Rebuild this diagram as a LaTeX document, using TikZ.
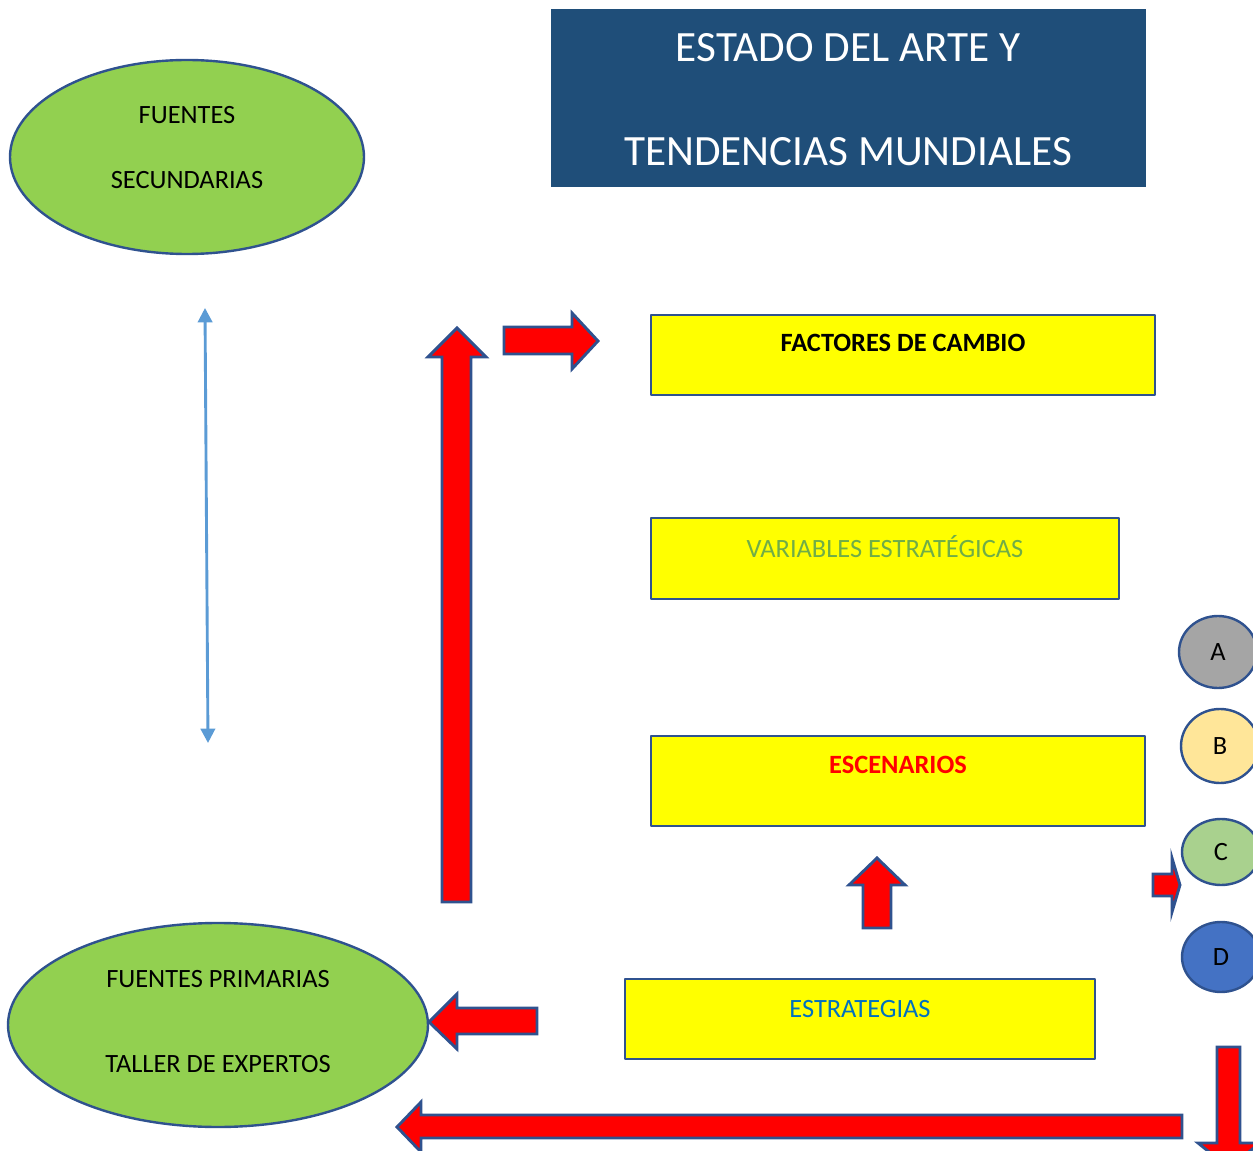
\documentclass[tikz,border=0pt]{standalone}
\usepackage{fontspec}
\setmainfont{Carlito}
\usetikzlibrary{arrows.meta}
\definecolor{titleblue}{HTML}{1F4E79}
\definecolor{boxline}{HTML}{2F528F}
\definecolor{boxyellow}{HTML}{FFFF00}
\definecolor{leafgreen}{HTML}{92D050}
\definecolor{vargreen}{HTML}{70AD47}
\definecolor{stratblue}{HTML}{0070C0}
\definecolor{skyline}{HTML}{5B9BD5}
\definecolor{brightred}{HTML}{FF0000}
\definecolor{circA}{HTML}{A5A5A5}
\definecolor{circB}{HTML}{FFE699}
\definecolor{circC}{HTML}{A9D18E}
\definecolor{circD}{HTML}{4472C4}
\tikzset{
  ybox/.style={fill=boxyellow, draw=boxline, line width=1pt},
  elli/.style={fill=leafgreen, draw=boxline, line width=1pt},
  dot/.style={draw=boxline, line width=1pt},
  redarrow/.style={fill=brightred, draw=boxline, line width=1.2pt, line join=miter},
  txt/.style={font=\fontsize{11}{13}\selectfont, inner sep=0pt},
}
\begin{document}
\begin{tikzpicture}[x=0.4167pt,y=-0.4167pt,line join=round,>={Triangle[length=6pt,width=6pt]}]
\useasboundingbox (0,0) rectangle (1253,1151);
\clip (0,0) rectangle (1253,1151);
% title
\fill[titleblue] (551,9) rectangle (1146,187);
\node[txt, font=\fontsize{18}{22}\selectfont, text=white] (tit1) at (848,48) {ESTADO DEL ARTE Y};
\node[txt, font=\fontsize{18}{22}\selectfont, text=white] (tit2) at (848,152) {TENDENCIAS MUNDIALES};
% sources
\draw[elli] (187,157) ellipse [x radius=177, y radius=97];
\node[txt] (sec1) at (187,115) {FUENTES};
\node[txt] (sec2) at (187,180) {SECUNDARIAS};
\draw[elli] (218,1025) ellipse [x radius=210, y radius=102];
\node[txt] (pri1) at (218,979) {FUENTES PRIMARIAS};
\node[txt] (pri2) at (218,1064) {TALLER DE EXPERTOS};
\coordinate (lnk1) at (205,308);
\coordinate (lnk2) at (208,743);
\draw[<->, skyline, line width=1.2pt] (lnk1) -- (lnk2);
% boxes
\draw[ybox] (651,315) rectangle (1155,395);
\node[txt, font=\fontsize{11}{13}\selectfont\bfseries] (fac) at (903,343) {FACTORES DE CAMBIO};
\draw[ybox] (651,518) rectangle (1119,599);
\node[txt, text=vargreen] (var) at (885,547) {VARIABLES ESTRATÉGICAS};
\draw[ybox] (651,736) rectangle (1145,826);
\node[txt, font=\fontsize{11}{13}\selectfont\bfseries, text=brightred] (esc) at (898,765) {ESCENARIOS};
\draw[ybox] (625,979) rectangle (1095,1059);
\node[txt, text=stratblue] (est) at (860,1009) {ESTRATEGIAS};
% scenarios
\foreach \x/\y/\ry/\c/\l in {1218/652/36/circA/A, 1220/746/37/circB/B, 1221/852/33/circC/C, 1221/957/35/circD/D}{
  \draw[dot, fill=\c] (\x,\y) ellipse [x radius=39, y radius=\ry];
  \node[txt] (sc\l) at (\x,\y) {\l};
}
% block arrows
\draw[redarrow] (442,902) -- (442,357) -- (428,357) -- (457,328) -- (486,357) -- (471,357) -- (471,902) -- cycle;
\draw[redarrow] (504,327) -- (572,327) -- (572,313) -- (598,341) -- (572,369) -- (572,354) -- (504,354) -- cycle;
\draw[redarrow] (863,928) -- (863,885) -- (849,885) -- (877,858) -- (905,885) -- (891,885) -- (891,928) -- cycle;
\draw[redarrow] (1153,874) -- (1172,874) -- (1172,858) -- (1180,885) -- (1172,912) -- (1172,896) -- (1153,896) -- cycle;
\draw[redarrow] (537,1008) -- (457,1008) -- (457,994) -- (429,1022) -- (457,1049) -- (457,1034) -- (537,1034) -- cycle;
\draw[redarrow] (1182,1115) -- (421,1115) -- (421,1102) -- (397,1127) -- (421,1152) -- (421,1138) -- (1182,1138) -- cycle;
\draw[redarrow] (1217,1047) -- (1240,1047) -- (1240,1143) -- (1260,1143) -- (1229,1168) -- (1198,1143) -- (1217,1143) -- cycle;
\end{tikzpicture}
\end{document}
